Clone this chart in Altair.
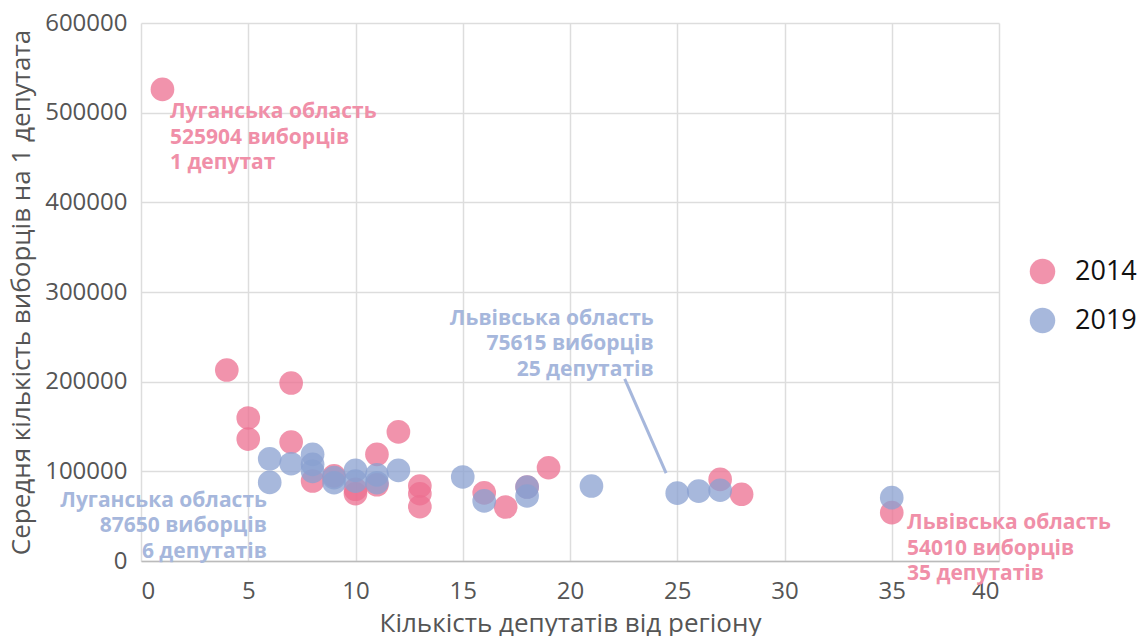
import altair as alt
import pandas as pd

deputies_2014 = [1, 4, 5, 5, 7, 7, 8, 9, 10, 10, 11, 11, 12, 13, 13, 13, 16, 17, 18, 19, 27, 28, 35]
voters_2014 = [525904, 213000, 159500, 136000, 198500, 132700, 89200, 95000, 75000, 80000,
               119000, 85000, 144000, 83600, 75000, 60500, 76000, 60200, 82500, 104000,
               91000, 74400, 54010]

deputies_2019 = [6, 6, 7, 8, 8, 8, 9, 9, 10, 10, 11, 11, 12, 15, 16, 18, 18, 21, 25, 26, 27, 35]
voters_2019 = [114000, 87650, 108500, 119000, 107800, 100000, 92900, 87300, 101000, 89000,
               96000, 87300, 101000, 93700, 67000, 82500, 72500, 83600, 75615, 78000,
               78900, 70600]

years = ["2014", "2019"]
colors = ["#ec6f90", "#8aa0d0"]
text_colors = ["#f08fa8", "#a6b7dc"]

ann_text = [
    "Луганська область\n525904 виборців\n1 депутат",
    "Луганська область\n87650 виборців\n6 депутатів",
    "Львівська область\n75615 виборців\n25 депутатів",
    "Львівська область\n54010 виборців\n35 депутатів",
]
ann_x = [1.35, 5.87, 23.9, 35.71]
ann_y = [513000, 79700, 282500, 54500]
ann_year = ["2014", "2019", "2019", "2014"]
ann_align = ["left", "right", "right", "left"]

leader_x = [22.55]
leader_y = [203000]
leader_x2 = [24.48]
leader_y2 = [98100]

pts = pd.DataFrame({
    "deputies": deputies_2014 + deputies_2019,
    "voters": voters_2014 + voters_2019,
    "year": ["2014"] * len(deputies_2014) + ["2019"] * len(deputies_2019),
})
ann = pd.DataFrame({"text": ann_text, "x": ann_x, "y": ann_y, "year": ann_year, "align": ann_align})
leader = pd.DataFrame({"x": leader_x, "y": leader_y, "x2": leader_x2, "y2": leader_y2})

FONT = "Open Sans"

xscale = alt.Scale(domain=[0, 40], nice=False)
yscale = alt.Scale(domain=[0, 600000], nice=False)

points = alt.Chart(pts).mark_circle(size=560, opacity=0.75).encode(
    x=alt.X("deputies:Q", scale=xscale,
            axis=alt.Axis(title="Кількість депутатів від регіону", values=list(range(0, 41, 5)),
                          labelFontSize=24, titleFontSize=26, labelColor="#555", titleColor="#555",
                          labelPadding=18, titlePadding=7, ticks=False,
                          domainColor="#bbb", domainWidth=1.5, gridColor="#ddd", gridWidth=1.5,
                          labelFont=FONT, titleFont=FONT, titleFontWeight="normal")),
    y=alt.Y("voters:Q", scale=yscale,
            axis=alt.Axis(title="Середня кількість виборців на 1 депутата",
                          values=list(range(0, 600001, 100000)), format="d",
                          labelFontSize=24, titleFontSize=26, labelColor="#555", titleColor="#555",
                          labelPadding=14, titlePadding=10, ticks=False, domain=False,
                          gridColor="#ddd", gridWidth=1.5,
                          labelFont=FONT, titleFont=FONT, titleFontWeight="normal")),
    color=alt.Color("year:N", scale=alt.Scale(domain=years, range=colors),
                    legend=alt.Legend(title=None, orient="none", legendX=888, legendY=235,
                                      symbolSize=650, symbolType="circle", labelFontSize=27,
                                      labelFont=FONT, labelColor="#111", labelOffset=19,
                                      rowPadding=21, padding=0, symbolStrokeWidth=0,
                                      symbolOpacity=0.75)),
    order=alt.Order("year:N"),
)

def text_layer(align):
    return alt.Chart(ann).transform_filter(alt.datum.align == align).mark_text(
        fontSize=21, fontWeight="bold", font=FONT, baseline="top", align=align,
        lineBreak="\n", lineHeight=25.5).encode(
        x=alt.X("x:Q", scale=xscale),
        y=alt.Y("y:Q", scale=yscale),
        text="text:N",
        color=alt.Color("year:N", scale=alt.Scale(domain=years, range=text_colors), legend=None),
    )

rule = alt.Chart(leader).mark_rule(color="#a6b7dc", strokeWidth=3).encode(
    x=alt.X("x:Q", scale=xscale), y=alt.Y("y:Q", scale=yscale),
    x2="x2:Q", y2="y2:Q",
)

chart = alt.layer(rule, points, text_layer("left"), text_layer("right")).resolve_scale(
    color="independent").properties(
    width=858, height=538,
    padding={"left": 0, "top": 3, "right": 0, "bottom": 0},
).configure_view(stroke=None)

chart.save("out.html", embed_options={"renderer": "svg", "actions": False})
